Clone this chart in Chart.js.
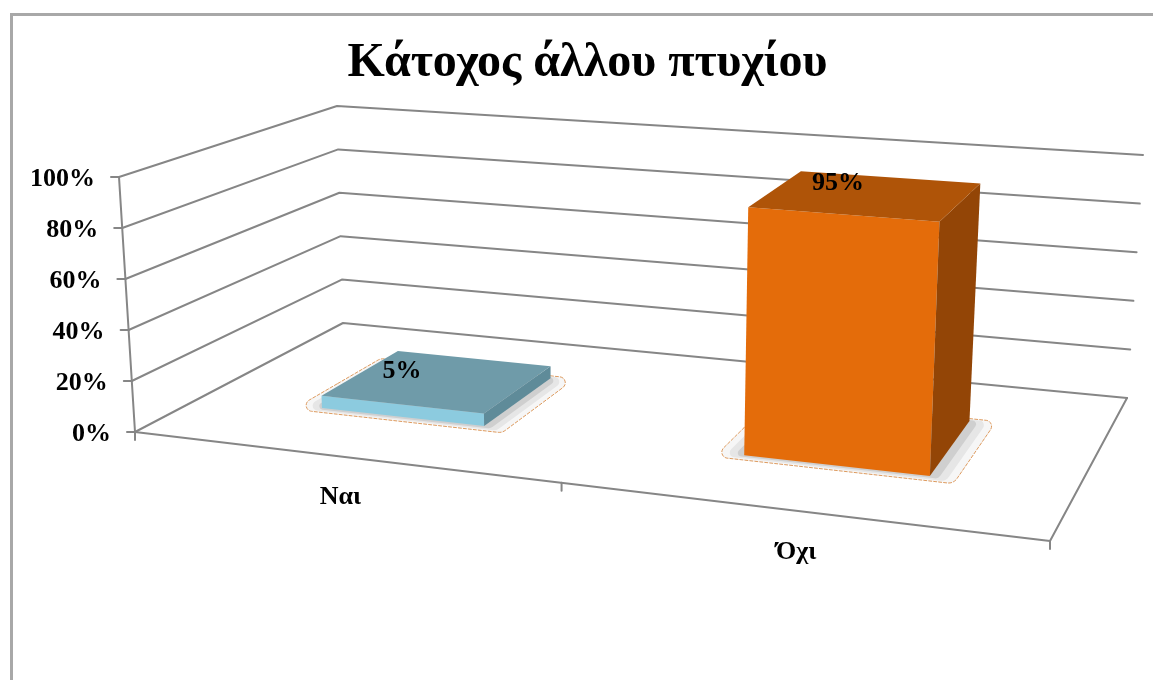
<!DOCTYPE html>
<html lang="el">
<head>
    <meta charset="UTF-8" />
    <title>Κάτοχος άλλου πτυχίου</title>
    <script src="https://cdn.jsdelivr.net/npm/chart.js"></script>
    <style>
        html, body { margin: 0; background: #fff; overflow: hidden; }
        #frame {
          position: absolute; left: 10px; top: 13px;
          width: 1300px; height: 800px;
          border: 3px solid #a8a8a8;
        }
        #stage { position: absolute; left: 0; top: 0; }
    </style>
</head>
<body>
<div id="frame"></div>
<canvas id="stage" width="1153" height="680"></canvas>

<script>
    const titleText = 'Κάτοχος άλλου πτυχίου';
    const categories = ['Ναι', 'Όχι'];
    const percentValues = [5, 95];

    // colours per bar: front, top, side
    const frontColors = ['#8ccbdf', '#e46c0a'];
    const topColors = ['#6f9ba9', '#af5408'];
    const sideColors = ['#5f8b99', '#934506'];

    const labelFont = 'bold 26px "Liberation Serif", serif';
    const lineColor = '#868686';

    // corners of the 3D box on the page: front/back, left/right, floor/top
    const box = {
      fl: [135, 432], fr: [1050, 541], bl: [343, 323], br: [1127, 398],
      tfl: [119, 177], tfr: [1064, 253], tbl: [337, 106], tbr: [1143, 155]
    };
    const sideways = 1.145;  // perspective squeeze along the category axis
    const barFront = 0.34;   // depth of the bars' front and back faces
    const barBack = 0.74;

    const mix = (a, b, k) => [a[0] + (b[0] - a[0]) * k, a[1] + (b[1] - a[1]) * k];

    // t: across categories 0-1, d: depth 0-1, v: height 0-1
    function project(t, d, v) {
      const u = t / (t + (1 - t) * sideways);
      const floor = mix(mix(box.fl, box.fr, u), mix(box.bl, box.br, u), d);
      const roof = mix(mix(box.tfl, box.tfr, u), mix(box.tbl, box.tbr, u), d);
      return mix(floor, roof, v);
    }

    function path(ctx, pts) {
      ctx.beginPath();
      pts.forEach((p, i) => i ? ctx.lineTo(p[0], p[1]) : ctx.moveTo(p[0], p[1]));
    }

    function line(ctx, pts) {
      path(ctx, pts);
      ctx.stroke();
    }

    function face(ctx, pts, color) {
      path(ctx, pts);
      ctx.closePath();
      ctx.fillStyle = color;
      ctx.fill();
    }

    // rounded outline on the floor round a bar foot
    // the sharp corners (front left, back right) get a smaller radius
    function halo(ctx, t0, t1, d0, d1, grow, radius) {
      const c = [project(t0 - grow, d0 - grow * 1.2, 0), project(t1 + grow, d0 - grow * 1.2, 0),
                 project(t1 + grow, d1 + grow * 0.6, 0), project(t0 - grow, d1 + grow * 0.6, 0)];
      const start = mix(c[3], c[0], 0.5);
      ctx.beginPath();
      ctx.moveTo(start[0], start[1]);
      for (let i = 0; i < 4; i++) {
        const a = c[i], b = c[(i + 1) % 4];
        ctx.arcTo(a[0], a[1], b[0], b[1], i % 2 ? radius : radius * 0.6);
      }
      ctx.closePath();
    }

    function drawBar(ctx, el, area, i) {
      const mid = (el.x - area.left) / area.width;
      const half = el.width / area.width / 2;
      const v = (area.bottom - el.y) / area.height;
      const t0 = mid - half, t1 = mid + half;

      // shadow ring on the floor, darker towards the bar
      halo(ctx, t0, t1, barFront, barBack, 0.028, 10);
      ctx.fillStyle = '#f6f6f6';
      ctx.fill();
      ctx.strokeStyle = '#dd9a5e';
      ctx.lineWidth = 1;
      ctx.setLineDash([3, 2]);
      ctx.stroke();
      ctx.setLineDash([]);
      halo(ctx, t0, t1, barFront, barBack, 0.019, 8);
      ctx.fillStyle = '#e6e6e6';
      ctx.fill();
      halo(ctx, t0, t1, barFront, barBack, 0.01, 6);
      ctx.fillStyle = '#cfcfcf';
      ctx.fill();

      const fbl = project(t0, barFront, 0), fbr = project(t1, barFront, 0);
      const bbr = project(t1, barBack, 0);
      const ftl = project(t0, barFront, v), ftr = project(t1, barFront, v);
      const btl = project(t0, barBack, v), btr = project(t1, barBack, v);
      face(ctx, [fbl, fbr, ftr, ftl], frontColors[i]);
      face(ctx, [fbr, bbr, btr, ftr], sideColors[i]);
      face(ctx, [ftl, ftr, btr, btl], topColors[i]);
    }

    const scene3d = {
      id: 'scene3d',
      beforeDatasetsDraw(chart) {
        const ctx = chart.ctx, area = chart.chartArea;
        const xScale = chart.scales.x, yScale = chart.scales.y;
        const bars = chart.getDatasetMeta(0).data;
        ctx.save();
        ctx.lineCap = 'round';
        ctx.lineJoin = 'round';
        ctx.strokeStyle = lineColor;
        ctx.lineWidth = 2;

        // walls, value axis and its labels
        ctx.font = labelFont;
        ctx.textAlign = 'right';
        ctx.textBaseline = 'middle';
        ctx.fillStyle = '#000';
        yScale.ticks.forEach(tick => {
          const v = (area.bottom - yScale.getPixelForValue(tick.value)) / area.height;
          const a = project(0, 0, v);
          line(ctx, [a, project(0, 1, v), project(1, 1, v)]);
          line(ctx, [a, [a[0] - 8, a[1]]]);
          ctx.fillText(tick.label, a[0] - 24, a[1] + 2);
        });
        line(ctx, [project(0, 0, 0), project(0, 0, 1)]);

        // floor
        path(ctx, [box.fl, box.fr, box.br]);
        ctx.stroke();

        // category ticks and labels
        ctx.textAlign = 'center';
        [0, 0.5, 1].forEach(t => {
          const p = project(t, 0, 0);
          line(ctx, [p, [p[0], p[1] + 8]]);
        });
        xScale.ticks.forEach((tick, i) => {
          const t = (xScale.getPixelForTick(i) - area.left) / area.width;
          const p = project(t, 0, 0);
          ctx.fillText(tick.label, p[0] - 1, p[1] + 41);
        });

        bars.forEach((el, i) => drawBar(ctx, el, area, i));

        // value labels sit on the tops, a bit left and behind the centre
        ctx.fillStyle = '#000';
        bars.forEach((el, i) => {
          const mid = (el.x - area.left) / area.width;
          const v = (area.bottom - el.y) / area.height;
          const p = project(mid - 0.06 + 0.015 * v, 0.6 + 0.065 * v, v);
          ctx.fillText(percentValues[i] + '%', p[0] - 1, p[1] + 2);
        });
        ctx.restore();
        return false;
      }
    };

    new Chart(document.getElementById('stage'), {
      type: 'bar',
      data: {
        labels: categories,
        datasets: [{
          data: percentValues,
          backgroundColor: frontColors,
          categoryPercentage: 1,
          barPercentage: 0.4
        }]
      },
      options: {
        responsive: false,
        animation: false,
        layout: { padding: { left: 22 } },
        plugins: {
          legend: { display: false },
          tooltip: { enabled: false },
          title: {
            display: true,
            text: titleText,
            color: '#000',
            font: { family: '"Liberation Serif", serif', size: 48, weight: 'bold' },
            padding: { top: 35, bottom: 10 }
          }
        },
        scales: {
          x: { display: false },
          y: {
            display: false,
            min: 0,
            max: 100,
            ticks: { stepSize: 20, callback: v => v + '%' }
          }
        }
      },
      plugins: [scene3d]
    });
</script>
</body>
</html>
